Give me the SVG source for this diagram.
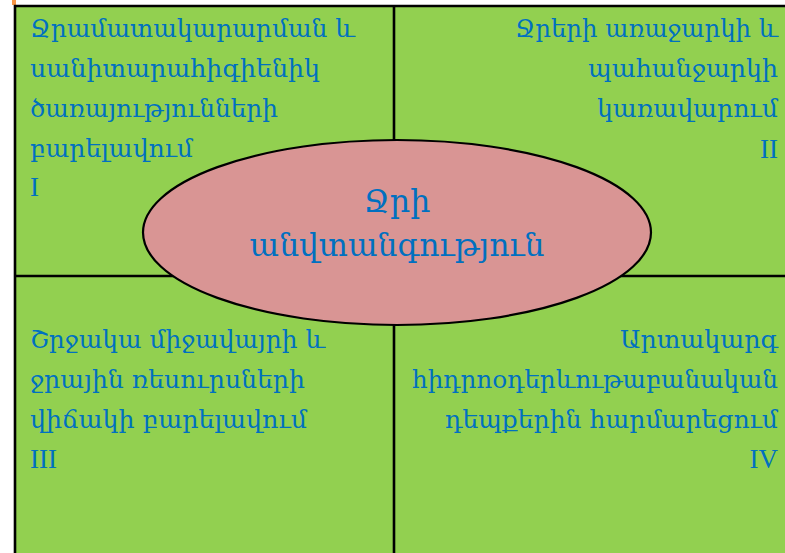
<svg xmlns="http://www.w3.org/2000/svg" width="785" height="553" viewBox="0 0 785 553">
<style>
.q{fill:#92D050;stroke:none}
.ln{stroke:#000;stroke-width:2.6;fill:none}
.t{font-family:"DejaVu Serif","Liberation Serif",serif;font-size:25px;fill:#0070C0}
.n{font-family:"Liberation Serif","DejaVu Serif",serif;font-size:27px;fill:#0070C0}
.c{font-family:"DejaVu Serif","Liberation Serif",serif;font-size:31px;fill:#0070C0;text-anchor:middle}
.r{text-anchor:end}
</style>
<rect width="785" height="553" fill="#fff"/>
<rect x="12" y="0" width="4" height="5" fill="#F79646"/>
<g id="quadrant-I">
<rect class="q" x="15" y="6" width="379" height="270"/>
<text class="t" x="30" y="37" textLength="325" lengthAdjust="spacingAndGlyphs">Ջրամատակարարման և</text>
<text class="t" x="30" y="77" textLength="290" lengthAdjust="spacingAndGlyphs">սանիտարահիգիենիկ</text>
<text class="t" x="30" y="117" textLength="248" lengthAdjust="spacingAndGlyphs">ծառայությունների</text>
<text class="t" x="30" y="157" textLength="163" lengthAdjust="spacingAndGlyphs">բարելավում</text>
<text class="n" x="30" y="196">I</text>
</g>
<g id="quadrant-II">
<rect class="q" x="394" y="6" width="391" height="270"/>
<text class="t" x="515" y="37" textLength="263" lengthAdjust="spacingAndGlyphs">Ջրերի առաջարկի և</text>
<text class="t" x="588" y="77" textLength="190" lengthAdjust="spacingAndGlyphs">պահանջարկի</text>
<text class="t" x="597" y="117" textLength="181" lengthAdjust="spacingAndGlyphs">կառավարում</text>
<text class="n r" x="778" y="158">II</text>
</g>
<g id="quadrant-III">
<rect class="q" x="15" y="276" width="379" height="277"/>
<text class="t" x="30" y="348" textLength="295" lengthAdjust="spacingAndGlyphs">Շրջակա միջավայրի և</text>
<text class="t" x="30" y="388" textLength="275" lengthAdjust="spacingAndGlyphs">ջրային ռեսուրսների</text>
<text class="t" x="30" y="428" textLength="277" lengthAdjust="spacingAndGlyphs">վիճակի բարելավում</text>
<text class="n" x="30" y="468">III</text>
</g>
<g id="quadrant-IV">
<rect class="q" x="394" y="276" width="391" height="277"/>
<text class="t" x="620" y="348" textLength="158" lengthAdjust="spacingAndGlyphs">Արտակարգ</text>
<text class="t" x="412" y="388" textLength="366" lengthAdjust="spacingAndGlyphs">հիդրոօդերևութաբանական</text>
<text class="t" x="445" y="428" textLength="333" lengthAdjust="spacingAndGlyphs">դեպքերին հարմարեցում</text>
<text class="n r" x="778" y="468">IV</text>
</g>
<g id="connectors">
<polyline class="ln" points="15,553 15,6 785,6"/>
<line class="ln" x1="394" y1="6" x2="394" y2="553"/>
<line class="ln" x1="15" y1="276" x2="785" y2="276"/>
</g>
<g id="center">
<ellipse cx="397" cy="232.5" rx="254" ry="92.5" fill="#D99594" stroke="#000" stroke-width="2.2"/>
<text class="c" x="397" y="212" textLength="67" lengthAdjust="spacingAndGlyphs">Ջրի</text>
<text class="c" x="397" y="256" textLength="295" lengthAdjust="spacingAndGlyphs">անվտանգություն</text>
</g>
</svg>
